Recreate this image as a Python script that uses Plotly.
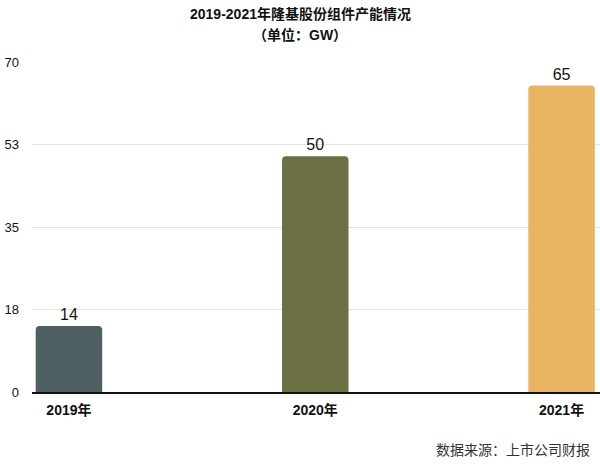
import plotly.graph_objects as go

categories = ["2019年", "2020年", "2021年"]
values = [14, 50, 65]
colors = ["#4E5F62", "#6C7042", "#E8B462"]
ytick_vals = [0, 17.5, 35, 52.5, 70]
ytick_text = ["0", "18", "35", "53", "70"]

FONT = "Liberation Sans, Arial, Noto Sans CJK SC, sans-serif"

fig = go.Figure()
fig.add_trace(go.Bar(
    x=list(range(len(categories))),
    y=values,
    width=0.27,
    marker=dict(color=colors, cornerradius=4, line=dict(width=0)),
    text=[str(v) for v in values],
    textposition="outside",
    textfont=dict(size=16, color="#111111", family=FONT),
    cliponaxis=False,
))

fig.update_layout(
    width=600, height=469,
    margin=dict(l=32, r=0, t=62, b=77),
    plot_bgcolor="white", paper_bgcolor="white",
    showlegend=False,
    font=dict(family=FONT),
    xaxis=dict(
        range=[-0.15, 2.156],
        tickvals=list(range(len(categories))),
        ticktext=categories,
        tickfont=dict(size=14, color="#111111", family=FONT, weight="bold"),
        showgrid=False, zeroline=False,
        showline=True, linecolor="#111111", linewidth=1.5,
        ticks="", ticklabelstandoff=4,
    ),
    yaxis=dict(
        range=[0, 70],
        tickvals=ytick_vals,
        ticktext=ytick_text,
        tickfont=dict(size=13, color="#111111", family=FONT),
        showgrid=True, gridcolor="#E3E3E3", gridwidth=1,
        zeroline=False, showline=False, ticks="",
        ticklabelstandoff=12,
    ),
    annotations=[
        dict(text="<b>2019-2021年隆基股份组件产能情况</b>", xref="paper", yref="paper",
             x=0.5, xshift=-16, y=1, yshift=48, yanchor="middle", showarrow=False,
             font=dict(size=14, color="#111111", family=FONT)),
        dict(text="<b>（单位：GW）</b>", xref="paper", yref="paper",
             x=0.5, xshift=-16, y=1, yshift=27, yanchor="middle", showarrow=False,
             font=dict(size=14, color="#111111", family=FONT)),
        dict(text="数据来源：上市公司财报", xref="paper", yref="paper",
             x=1, xanchor="right", xshift=-8, y=0, yshift=-58, yanchor="middle",
             showarrow=False, font=dict(size=14, color="#333333", family=FONT)),
    ],
)

fig.write_html("out.html", config={"displayModeBar": False},
               post_script="document.body.style.margin='0';")
